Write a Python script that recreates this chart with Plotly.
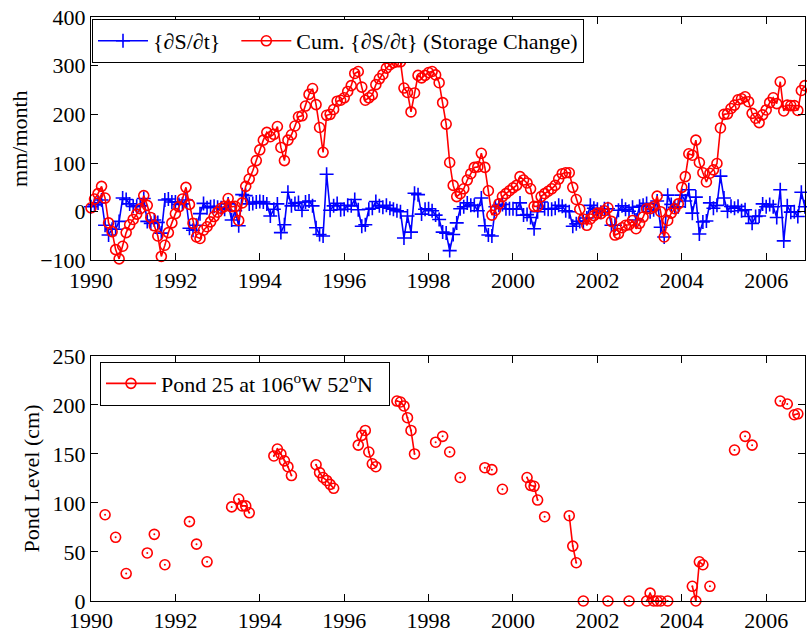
import plotly.graph_objects as go

# ---------------- data ----------------
start_year = 1990

dsdt = [
    10, 14, 18, 24, -28, -48, -36, -36, -20, 28, 25, 16,      # 1990
    11, 11, 12, 27, -20, -24, -17, -22, -44, 24, 26, 20,      # 1991
    20, 15, 16, 24, -34, -38, -28, -4, 17, 8, 10, 11,         # 1992
    9, 8, 5, 16, -17, 2, -29, 35, 33, 16, 17, 20,             # 1993
    21, 20, 16, -9, 5, 16, -43, -27, 40, 12, 17, 19,          # 1994
    3, 20, 22, 12, -33, -47, -50, 77, 3, 12, 17, 4,           # 1995
    5, 13, 12, 25, 4, -30, -27, 5, 7, 21, 12, 9,              # 1996
    13, 7, 5, 2, 0, -54, -9, -42, 38, 35, -5, 5,              # 1997
    6, 2, -7, -16, -42, -44, -80, -47, -23, 6, 10, 18,        # 1998
    13, 13, 2, 28, -29, -48, -50, 10, 13, 15, 6, 6,           # 1999
    6, 5, 18, -7, -6, -12, -35, 0, 20, 6, 5, 5,               # 2000
    7, 13, 11, 2, 0, -30, -25, -20, -20, -13, 13, 7,          # 2001
    5, -1, 6, 6, -28, -28, 3, 12, 5, 1, 9, -17,               # 2002
    11, 13, 17, 0, 4, 22, -32, -52, 34, 15, 9, 10,            # 2003
    34, 22, 45, -3, 30, -46, -21, -19, 18, 7, 13, 73,         # 2004
    28, 1, 11, 7, 11, 2, 4, -10, -24, -10, -9, 16,            # 2005
    10, 15, 10, -12, 45, -60, 12, -1, 0, -10, 40, 10,         # 2006
]

cum_dsdt = [
    8, 26, 37, 52, 28, -23, -41, -78, -97, -71, -43, -27,     # 1990
    -16, -5, 6, 33, 13, -12, -29, -50, -92, -69, -43, -23,    # 1991
    -4, 10, 26, 50, 15, -24, -52, -55, -38, -31, -21, -10,    # 1992
    -1, 7, 11, 27, 10, 11, -18, 18, 52, 67, 84, 105,          # 1993
    127, 147, 163, 154, 159, 175, 132, 105, 147, 158, 176, 195,  # 1994
    197, 217, 241, 253, 220, 173, 122, 198, 200, 210, 227, 229,  # 1995
    234, 247, 259, 284, 288, 256, 229, 234, 240, 261, 273, 282,  # 1996
    295, 302, 306, 308, 308, 254, 245, 205, 244, 280, 275, 280,  # 1997
    286, 288, 281, 265, 224, 180, 101, 54, 31, 37, 47, 65,       # 1998
    78, 91, 92, 120, 91, 43, -7, 3, 16, 31, 37, 43,              # 1999
    49, 54, 72, 65, 59, 47, 11, 11, 31, 37, 42, 47,              # 2000
    54, 67, 78, 80, 80, 50, 25, 5, -15, -28, -15, -8,            # 2001
    -3, -4, 2, 8, -20, -48, -45, -33, -28, -27, -18, -35,        # 2002
    -24, -11, 6, 6, 10, 32, 0, -52, -18, -3, 6, 16,              # 2003
    50, 72, 119, 116, 147, 101, 80, 61, 79, 86, 99, 172,         # 2004
    200, 201, 212, 219, 230, 232, 236, 226, 202, 192, 183, 199,  # 2005
    209, 224, 234, 222, 267, 207, 219, 218, 218, 208, 249, 259,  # 2006
]

pond_year = [1990, 1990, 1990, 1991, 1991, 1991, 1992, 1992, 1992,
             1993, 1993, 1993, 1993, 1993,
             1994, 1994, 1994, 1994, 1994, 1994,
             1995, 1995, 1995, 1995, 1995, 1995,
             1996, 1996, 1996, 1996, 1996, 1996,
             1997, 1997, 1997, 1997, 1997, 1997,
             1998, 1998, 1998, 1998, 1999, 1999, 1999,
             2000, 2000, 2000, 2000, 2000,
             2001, 2001, 2001, 2001, 2002, 2002,
             2003, 2003, 2003, 2003, 2003, 2003,
             2004, 2004, 2004, 2004, 2004,
             2005, 2005, 2005, 2006, 2006, 2006, 2006]
pond_month = [5, 8, 11, 5, 7, 10, 5, 7, 10,
              5, 7, 8, 9, 10,
              5, 6, 7, 8, 9, 10,
              5, 6, 7, 8, 9, 10,
              5, 6, 7, 8, 9, 10,
              4, 5, 6, 7, 8, 9,
              3, 5, 7, 10, 5, 7, 10,
              5, 6, 7, 8, 10,
              5, 6, 7, 9, 4, 10,
              3, 4, 5, 6, 7, 9,
              4, 5, 6, 7, 9,
              4, 7, 9, 5, 7, 9, 10]
pond_cm = [88, 65, 28, 49, 68, 37, 81, 58, 40,
           96, 104, 97, 97, 90,
           148, 155, 150, 143, 137, 128,
           139, 131, 126, 123, 119, 115,
           159, 169, 174, 152, 140, 137,
           204, 203, 199, 187, 174, 150,
           162, 168, 152, 126, 136, 134, 114,
           126, 118, 117, 103, 86,
           87, 56, 39, 0, 0, 0,
           0, 8, 0, 0, 0, 0,
           15, 0, 40, 37, 15,
           154, 168, 159, 204, 201, 190, 191]

x_ticks = [1990, 1992, 1994, 1996, 1998, 2000, 2002, 2004, 2006]

# ---------------- build series ----------------
t_month = [start_year + i / 12 for i in range(len(cum_dsdt))]

pond_t, pond_v = [], []
prev = None
for yr, mo, v in zip(pond_year, pond_month, pond_cm):
    idx = (yr - start_year) * 12 + (mo - 1)
    if prev is not None and idx != prev + 1:
        pond_t.append(None)
        pond_v.append(None)
    pond_t.append(start_year + idx / 12)
    pond_v.append(v)
    prev = idx
pond_dot_t = [start_year + ((y - start_year) * 12 + m - 1) / 12 for y, m in zip(pond_year, pond_month)]

FONT = "Liberation Serif"
FS = 22
NB = "\u00a0"
fig = go.Figure()

fig.add_trace(go.Scatter(
    x=t_month, y=dsdt, mode="lines+markers", name="{\u2202S/\u2202t}" + NB * 2,
    line=dict(color="#0000ff", width=1.6),
    marker=dict(symbol="cross-thin", size=10, color="#0000ff",
                line=dict(width=1.6, color="#0000ff")),
    xaxis="x", yaxis="y", legend="legend", cliponaxis=False))
fig.add_trace(go.Scatter(
    x=t_month, y=cum_dsdt, mode="lines+markers",
    name="Cum. {\u2202S/\u2202t} (Storage Change)",
    line=dict(color="#ff0000", width=1.6),
    marker=dict(symbol="circle-open", size=10, color="#ff0000", line=dict(width=1.6)),
    xaxis="x", yaxis="y", legend="legend", cliponaxis=False))

fig.add_trace(go.Scatter(
    x=pond_t, y=pond_v, mode="lines+markers", connectgaps=False,
    name="Pond 25 at 106<sup>o</sup>W 52<sup>o</sup>N" + NB * 2,
    line=dict(color="#ff0000", width=1.6),
    marker=dict(symbol="circle-open", size=10, color="#ff0000", line=dict(width=1.6)),
    xaxis="x2", yaxis="y2", legend="legend2", cliponaxis=False))
fig.add_trace(go.Scatter(
    x=pond_dot_t, y=pond_cm, mode="markers", showlegend=False,
    marker=dict(symbol="circle", size=2, color="#ff0000"),
    xaxis="x2", yaxis="y2", cliponaxis=False, hoverinfo="skip"))

axis_common = dict(
    showline=True, linecolor="black", linewidth=1, mirror="ticks",
    ticks="inside", ticklen=7, tickwidth=1, tickcolor="black",
    showgrid=False, zeroline=False,
    tickfont=dict(family=FONT, size=FS, color="black"),
)

fig.update_layout(
    width=807, height=634,
    margin=dict(l=91, r=1, t=17, b=29),
    paper_bgcolor="white", plot_bgcolor="white",
    font=dict(family=FONT, size=FS, color="black"),
    xaxis=dict(domain=[0, 1], anchor="y", range=[1990, 2006.92],
               tickvals=x_ticks, **axis_common),
    yaxis=dict(domain=[0.5833, 1], anchor="x", range=[-100, 400], dtick=100,
               title=dict(text="mm/month", font=dict(family=FONT, size=FS), standoff=6),
               **axis_common),
    xaxis2=dict(domain=[0, 1], anchor="y2", range=[1990, 2006.92],
                tickvals=x_ticks, **axis_common),
    yaxis2=dict(domain=[0, 0.4196], anchor="x2", range=[0, 250], dtick=50,
                title=dict(text="Pond Level (cm)", font=dict(family=FONT, size=FS), standoff=6),
                **axis_common),
    legend=dict(x=0.0014, y=0.9966, xanchor="left", yanchor="top",
                orientation="h", bordercolor="black", borderwidth=1,
                bgcolor="white", font=dict(family=FONT, size=FS),
                itemwidth=50),
    legend2=dict(x=0.0126, y=0.410, xanchor="left", yanchor="top",
                 orientation="h", bordercolor="black", borderwidth=1,
                 bgcolor="white", font=dict(family=FONT, size=FS),
                 itemwidth=50),
)

fig.write_html("out.html")
